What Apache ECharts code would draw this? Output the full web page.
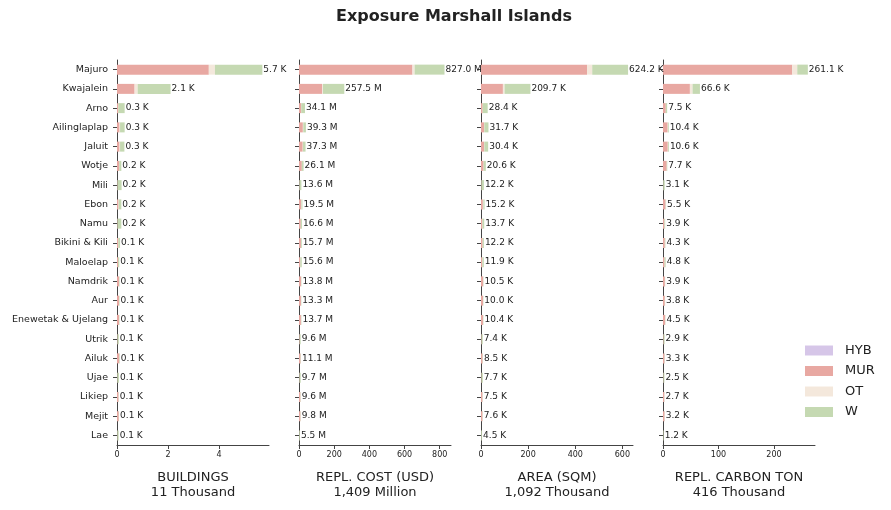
<!DOCTYPE html>
<html>
<head>
<meta charset="utf-8">
<title>Exposure Marshall Islands</title>
<script src="https://cdn.jsdelivr.net/npm/echarts@6/dist/echarts.min.js"></script>
<style>
  html, body { margin: 0; padding: 0; background: #fff; }
  #chart { width: 891px; height: 510px; }
</style>
</head>
<body>
<div id="chart"></div>
<script>
// atolls, top to bottom
var atolls = ['Majuro', 'Kwajalein', 'Arno', 'Ailinglaplap', 'Jaluit', 'Wotje', 'Mili', 'Ebon', 'Namu',
    'Bikini & Kili', 'Maloelap', 'Namdrik', 'Aur', 'Enewetak & Ujelang', 'Utrik', 'Ailuk', 'Ujae',
    'Likiep', 'Mejit', 'Lae'];

var typeNames = ['HYB', 'MUR', 'OT', 'W'];

// HYB is empty in every panel
var hybNone = [0, 0, 0, 0, 0, 0, 0, 0, 0, 0, 0, 0, 0, 0, 0, 0, 0, 0, 0, 0];

// buildings (thousand)
var bldMur = [3.6, 0.69, 0.05, 0.1, 0.1, 0.09, 0.02, 0.06, 0.02, 0.05, 0.04, 0.08, 0.08, 0.08, 0.02, 0.09, 0.015, 0.06, 0.07, 0.015];
var bldOt = [0.24, 0.12, 0, 0.02, 0.02, 0, 0, 0.01, 0, 0, 0, 0, 0, 0.005, 0, 0, 0, 0, 0, 0];
var bldW = [1.86, 1.29, 0.25, 0.18, 0.17, 0.08, 0.16, 0.1, 0.15, 0.07, 0.05, 0.02, 0.02, 0.015, 0.05, 0.02, 0.06, 0.01, 0.01, 0.05];

// replacement cost (million USD)
var costMur = [645, 132, 13, 22, 21, 16, 2.6, 12, 10, 11, 7.6, 11.8, 11.3, 11, 3.6, 9.1, 2.7, 8.1, 8.3, 1.5];
var costOt = [12, 4, 0, 2.3, 1.3, 0, 0, 2, 0, 0, 0, 0, 0, 0.7, 0, 0, 0, 0, 0, 0];
var costW = [170, 121.5, 21.1, 15, 15, 10.1, 11, 5.5, 6.6, 4.7, 8, 2, 2, 2, 6, 2, 7, 1.5, 1.5, 4];

// area (thousand sqm)
var areaMur = [450, 93, 7, 13, 13, 11, 2, 8, 6, 7, 5.9, 9, 8.5, 8.4, 2.4, 7, 2.2, 6.3, 6.4, 1];
var areaOt = [22, 7, 0, 1, 1, 0, 0, 2, 0, 0, 0, 0, 0, 0.5, 0, 0, 0, 0, 0, 0];
var areaW = [152.2, 109.7, 21.4, 17.7, 16.4, 9.6, 10.2, 5.2, 7.7, 5.2, 6, 1.5, 1.5, 1.5, 5, 1.5, 5.5, 1.2, 1.2, 3.5];

// replacement carbon (thousand ton)
var co2Mur = [233, 48.5, 5, 8.4, 8.6, 6.7, 0.5, 4.5, 2.5, 3.3, 2.8, 3.4, 3.3, 3.8, 1.1, 2.8, 0.8, 2.3, 2.8, 0.3];
var co2Ot = [9, 4.8, 0, 0.5, 0.5, 0, 0, 0.3, 0, 0, 0, 0, 0, 0.2, 0, 0, 0, 0, 0, 0];
var co2W = [19.1, 13.3, 2.5, 1.5, 1.5, 1, 2.6, 0.7, 1.4, 1, 2, 0.5, 0.5, 0.5, 1.8, 0.5, 1.7, 0.4, 0.4, 0.9];

var panelTitles = ['BUILDINGS', 'REPL. COST (USD)', 'AREA (SQM)', 'REPL. CARBON TON'];
var panelTotals = ['11 Thousand', '1,409 Million', '1,092 Thousand', '416 Thousand'];
var panelUnits = ['K', 'M', 'K', 'K'];
var panelTicks = [[0, 2, 4], [0, 200, 400, 600, 800], [0, 200, 400, 600], [0, 100, 200]];
var panelMax = [5.96, 864, 645, 274];

var panelData = [
    [hybNone, bldMur, bldOt, bldW],
    [hybNone, costMur, costOt, costW],
    [hybNone, areaMur, areaOt, areaW],
    [hybNone, co2Mur, co2Ot, co2W]
];

var colors = ['#d6c6e8', '#e8a8a2', '#f4e8dc', '#c5d9b2'];
var font = 'DejaVu Sans';
var axisColor = '#444';

var chart = echarts.init(document.getElementById('chart'));

var grids = [], xAxes = [], yAxes = [], series = [];

for (var p = 0; p < 4; p++) {
    grids.push({ left: 117 + 182 * p, top: 60, width: 152, height: 385 });

    xAxes.push({
        type: 'value',
        gridIndex: p,
        min: 0,
        max: panelMax[p],
        name: panelTitles[p] + '\n' + panelTotals[p],
        nameLocation: 'middle',
        nameGap: 25,
        nameTextStyle: { fontFamily: font, fontSize: 13, lineHeight: 15, color: '#222' },
        splitLine: { show: false },
        axisLine: { show: true, lineStyle: { color: axisColor, width: 1 } },
        axisTick: { show: true, length: 4, customValues: panelTicks[p], lineStyle: { color: axisColor } },
        axisLabel: { fontFamily: font, fontSize: 8, color: '#222', margin: 6, customValues: panelTicks[p] }
    });

    yAxes.push({
        type: 'category',
        gridIndex: p,
        data: atolls,
        inverse: true,
        axisLine: { show: true, lineStyle: { color: axisColor, width: 1 } },
        axisTick: { show: true, length: 4, alignWithLabel: true, lineStyle: { color: axisColor } },
        axisLabel: { show: p === 0, fontFamily: font, fontSize: 9.5, color: '#222', margin: 9, interval: 0 },
        splitLine: { show: false }
    });

    // totals per atoll for the value labels
    var totals = atolls.map(function (a, i) {
        return panelData[p].reduce(function (s, arr) { return s + arr[i]; }, 0);
    });

    for (var t = 0; t < 4; t++) {
        var s = {
            name: typeNames[t],
            type: 'bar',
            xAxisIndex: p,
            yAxisIndex: p,
            stack: 'panel' + p,
            barWidth: 10,
            data: panelData[p][t],
            itemStyle: { color: colors[t] },
            emphasis: { disabled: true }
        };
        if (t === 3) {
            s.label = {
                show: true,
                position: 'right',
                distance: 1,
                fontFamily: font,
                fontSize: 9,
                color: '#222',
                formatter: (function (tot, unit) {
                    return function (d) { return tot[d.dataIndex].toFixed(1) + ' ' + unit; };
                })(totals, panelUnits[p])
            };
        }
        series.push(s);
    }
}

var option = {
    animation: false,
    color: colors,
    title: {
        text: 'Exposure Marshall Islands',
        left: 331,
        top: 4,
        textStyle: { fontFamily: font, fontSize: 16, fontWeight: 'bold', color: '#222' }
    },
    legend: {
        data: typeNames,
        orient: 'vertical',
        left: 800,
        top: 339,
        itemWidth: 28,
        itemHeight: 10,
        itemGap: 7.5,
        icon: 'rect',
        textStyle: { fontFamily: font, fontSize: 13, color: '#222', padding: [0, 0, 0, 7] }
    },
    grid: grids,
    xAxis: xAxes,
    yAxis: yAxes,
    series: series
};

chart.setOption(option);
</script>
</body>
</html>
